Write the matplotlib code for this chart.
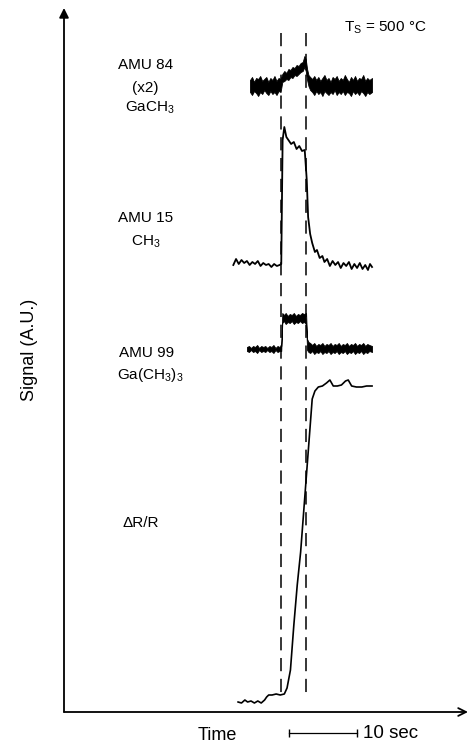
import matplotlib
matplotlib.use('Agg')
import matplotlib.pyplot as plt

plt.rcParams['font.family'] = ['Liberation Sans', 'DejaVu Sans']
plt.rcParams['mathtext.default'] = 'regular'
plt.rcParams['lines.scale_dashes'] = False

# time (s) and signal (arbitrary units, offset per trace)
pulse_on = 31.9
pulse_off = 35.6

# AMU 84 (x2) GaCH3 - noisy band, lower / upper edge
t84 = [27.35, 27.65, 27.95, 28.25, 28.55, 28.85, 29.15, 29.45, 29.75, 30.05,
       30.35, 30.65, 30.95, 31.25, 31.55, 31.85,
       32.1, 32.4, 32.7, 33.0, 33.3, 33.6, 33.9, 34.2, 34.5, 34.8,
       35.1, 35.35, 35.55, 35.75, 35.95, 36.2,
       36.5, 36.8, 37.1, 37.4, 37.7, 38.0, 38.3, 38.6, 38.9, 39.2,
       39.5, 39.8, 40.1, 40.4, 40.7, 41.0, 41.3, 41.6, 41.9, 42.2,
       42.5, 42.8, 43.1, 43.4, 43.7, 44.0, 44.3, 44.6, 44.9, 45.3]
hi84 = [632, 635, 630, 634, 633, 636, 631, 633, 635, 630,
        634, 632, 636, 631, 634, 633,
        638, 641, 639, 643, 642, 645, 644, 647, 646, 649,
        650, 656, 653, 643, 637, 635,
        633, 636, 632, 635, 631, 634, 637, 632, 634, 630,
        635, 633, 636, 631, 634, 632, 637, 633, 630, 635,
        632, 636, 631, 634, 633, 637, 631, 634, 632, 634]
lo84 = [620, 617, 621, 619, 616, 620, 618, 622, 619, 617,
        621, 618, 620, 617, 621, 620,
        630, 631, 633, 632, 635, 634, 637, 636, 638, 640,
        641, 645, 641, 632, 626, 622,
        620, 617, 621, 618, 620, 616, 621, 619, 617, 620,
        618, 622, 617, 620, 618, 621, 617, 620, 619, 616,
        621, 618, 620, 617, 621, 619, 616, 620, 618, 620]

# AMU 15 CH3
t15 = [24.9, 25.3, 25.7, 26.1, 26.5, 26.9, 27.3, 27.7, 28.1, 28.5,
       28.9, 29.3, 29.7, 30.1, 30.5, 30.9, 31.3, 31.7,
       31.95, 32.15, 32.4, 32.7, 33.0, 33.4, 33.8, 34.2, 34.6, 35.0, 35.4,
       35.7, 35.9, 36.2, 36.5, 36.9, 37.2, 37.6, 38.0, 38.3, 38.7,
       39.1, 39.5, 39.9, 40.3, 40.7, 41.1, 41.5, 41.9, 42.3, 42.7,
       43.1, 43.5, 43.9, 44.3, 44.7, 45.0, 45.3]
sig15 = [447, 453, 448, 452, 449, 451, 447, 450, 448, 451,
         446, 449, 447, 448, 445, 448, 446, 447,
         448, 572, 585, 575, 572, 568, 570, 563, 566, 561, 562,
         532, 495, 478, 469, 460, 462, 454, 456, 450, 453,
         446, 451, 447, 450, 444, 449, 446, 450, 443, 448,
         444, 449, 443, 447, 442, 448, 445]

# AMU 99 Ga(CH3)3 - noisy band
t99 = [26.9, 27.2, 27.5, 27.8, 28.1, 28.4, 28.7, 29.0, 29.3, 29.6,
       29.9, 30.2, 30.5, 30.8, 31.1, 31.4, 31.7, 31.95,
       32.1, 32.35, 32.6, 32.9, 33.2, 33.5, 33.8, 34.1, 34.4, 34.7,
       35.0, 35.3, 35.6,
       35.75, 35.95, 36.2, 36.5, 36.8, 37.1, 37.4, 37.7, 38.0, 38.3,
       38.6, 38.9, 39.2, 39.5, 39.8, 40.1, 40.4, 40.7, 41.0, 41.3,
       41.6, 41.9, 42.2, 42.5, 42.8, 43.1, 43.4, 43.7, 44.0, 44.3,
       44.6, 44.9, 45.3]
hi99 = [365, 366, 364, 366, 365, 367, 364, 366, 365, 366,
        364, 366, 365, 367, 364, 366, 365, 366,
        399, 397, 399, 396, 398, 397, 399, 396, 398, 397,
        399, 398, 399,
        373, 370, 369, 367, 369, 366, 368, 367, 369, 366,
        368, 367, 369, 366, 368, 367, 369, 366, 368, 367,
        369, 366, 368, 367, 369, 366, 368, 367, 369, 366,
        368, 367, 366]
lo99 = [361, 360, 362, 360, 361, 359, 362, 360, 361, 360,
        362, 360, 361, 359, 362, 360, 361, 361,
        389, 391, 388, 390, 389, 391, 388, 390, 389, 391,
        389, 390, 388,
        362, 360, 359, 361, 358, 360, 359, 361, 358, 360,
        359, 361, 358, 360, 359, 361, 358, 360, 359, 361,
        358, 360, 359, 361, 358, 360, 359, 361, 358, 360,
        359, 361, 360]

# delta R / R
tdr = [25.6, 26.1, 26.6, 27.0, 27.5, 28.0, 28.5, 29.0, 29.5, 29.8,
       30.1, 30.6, 31.2, 31.8, 32.4, 32.8, 33.3, 33.8, 34.3, 34.8,
       35.4, 36.0, 36.5, 36.9, 37.4, 38.0, 38.6, 39.1, 39.6, 40.2,
       40.8, 41.4, 41.8, 42.3, 43.0, 43.8, 44.5, 45.3]
sigdr = [10, 9, 12, 10, 11, 9, 11, 9, 12, 15,
         17, 17, 18, 17, 18, 24, 42, 87, 127, 160,
         214, 268, 313, 321, 325, 326, 329, 332, 326, 326,
         327, 331, 332, 326, 325, 325, 326, 326]

scale_start = 33.1
scale_len = 10

W, H = 469, 744
PX = 6.8  # pixels per second


def fx(px):
    return px / W


def fy(py):
    return 1 - py / H


fig = plt.figure(figsize=(4.69, 7.44), dpi=100)
ax = fig.add_axes([fx(64), fy(712), fx(468) - fx(64), fy(8) - fy(712)])
ax.set_xlim(0, 404 / PX)
ax.set_ylim(0, 704)
ax.axis('off')

# axes with arrows
ax.annotate('', xy=(0, 1), xytext=(0, 0), xycoords='axes fraction',
            arrowprops=dict(arrowstyle='-|>', lw=1.3, color='black',
                            mutation_scale=14, shrinkA=0, shrinkB=0))
ax.annotate('', xy=(1, 0), xytext=(0, 0), xycoords='axes fraction',
            arrowprops=dict(arrowstyle='->', lw=1.3, color='black',
                            mutation_scale=14, shrinkA=0, shrinkB=0))

# traces
ax.fill_between(t84, lo84, hi84, color='black', lw=0.6)
ax.plot(t15, sig15, color='black', lw=1.3)
ax.fill_between(t99, lo99, hi99, color='black', lw=0.6)
ax.plot(tdr, sigdr, color='black', lw=1.2)

# pulse markers
for t in (pulse_on, pulse_off):
    ax.plot([t, t], [679, 15], color='black', lw=1.1,
            linestyle=(0, (9.5, 5.5)))

# scale bar
ax.plot([scale_start, scale_start + scale_len], [-21, -21], color='black',
        lw=0.9, marker='|', markersize=6, clip_on=False)

fs = 11
fig.text(fx(146), fy(65), 'AMU 84', fontsize=fs, ha='center', va='center')
fig.text(fx(145), fy(88), '(x2)', fontsize=fs, ha='center', va='center')
fig.text(fx(150), fy(108), 'GaCH$_3$', fontsize=fs, ha='center', va='center')
fig.text(fx(146), fy(218), 'AMU 15', fontsize=fs, ha='center', va='center')
fig.text(fx(146), fy(242), 'CH$_3$', fontsize=fs, ha='center', va='center')
fig.text(fx(147), fy(353), 'AMU 99', fontsize=fs, ha='center', va='center')
fig.text(fx(117), fy(375), 'Ga(CH$_3$)$_3$', fontsize=fs, ha='left', va='center')
fig.text(fx(141), fy(523), '\u0394R/R', fontsize=fs, ha='center', va='center')
fig.text(fx(385), fy(28), 'T$_S$ = 500 \u00b0C', fontsize=fs, ha='center', va='center')

fig.text(fx(30), fy(350), 'Signal (A.U.)', fontsize=13, rotation=90,
         ha='center', va='center')
fig.text(fx(217), fy(735), 'Time', fontsize=13, ha='center', va='center')
fig.text(fx(363), fy(733), '10 sec', fontsize=13.5, ha='left', va='center')

fig.savefig('out.png', dpi=100)
